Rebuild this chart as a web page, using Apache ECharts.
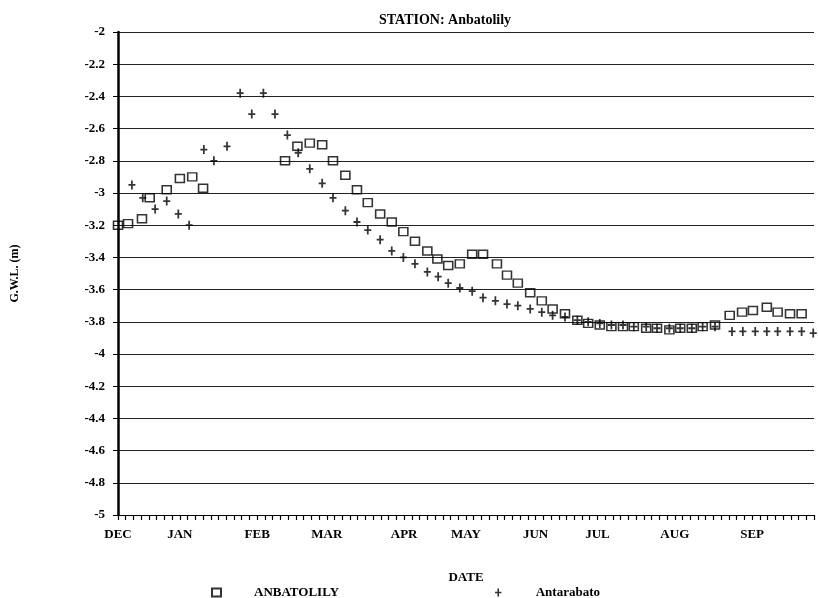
<!DOCTYPE html>
<html>
<head>
    <meta http-equiv="content-type" content="text/html;charset=utf-8" />
    <title>STATION: Anbatolily</title>
    <script src="https://cdn.jsdelivr.net/npm/echarts@6/dist/echarts.min.js"></script>
</head>
<body style="margin:0;background:#fff;">
    <div id="main" style="width: 818px;height:598px;"></div>
    <script type="text/javascript">
        // month labels and where they sit on the tick scale (one tick = one step of the date axis)
        var monthNames = ['DEC', 'JAN', 'FEB', 'MAR', 'APR', 'MAY', 'JUN', 'JUL', 'AUG', 'SEP'];
        var monthPos = [0, 8, 18, 27, 37, 45, 54, 62, 72, 82];

        // ANBATOLILY (squares)
        var anbX = [0, 1.3, 3.1, 4.1, 6.3, 8.0, 9.6, 11.0,
            21.6, 23.2, 24.8, 26.4, 27.8, 29.4, 30.9, 32.3, 33.9, 35.4, 36.9, 38.4, 40.0, 41.3, 42.7, 44.2,
            45.8, 47.2, 49.0, 50.3, 51.7, 53.3, 54.8, 56.2, 57.8, 59.4, 60.8, 62.3, 63.8, 65.3, 66.7, 68.3,
            69.7, 71.3, 72.7, 74.2, 75.6, 77.2, 79.1, 80.7, 82.1, 83.9, 85.3, 86.9, 88.4];
        var anbY = [-3.20, -3.19, -3.16, -3.03, -2.98, -2.91, -2.90, -2.97,
            -2.80, -2.71, -2.69, -2.70, -2.80, -2.89, -2.98, -3.06, -3.13, -3.18, -3.24, -3.30, -3.36, -3.41, -3.45, -3.44,
            -3.38, -3.38, -3.44, -3.51, -3.56, -3.62, -3.67, -3.72, -3.75, -3.79, -3.81, -3.82, -3.83, -3.83, -3.83, -3.84,
            -3.84, -3.85, -3.84, -3.84, -3.83, -3.82, -3.76, -3.74, -3.73, -3.71, -3.74, -3.75, -3.75];

        // Antarabato (crosses)
        var antX = [1.8, 3.2, 4.8, 6.3, 7.8, 9.2, 11.1, 12.4, 14.1, 15.8, 17.3, 18.8, 20.3, 21.9, 23.3,
            24.8, 26.4, 27.8, 29.4, 30.9, 32.3, 33.9, 35.4, 36.9, 38.4, 40.0, 41.4, 42.7, 44.2, 45.8,
            47.2, 48.8, 50.3, 51.7, 53.3, 54.8, 56.2, 57.8, 59.4, 60.8, 62.3, 63.8, 65.3, 66.7, 68.3,
            69.7, 71.3, 72.7, 74.2, 75.6, 77.2, 79.4, 80.8, 82.4, 83.9, 85.3, 86.9, 88.4, 89.9];
        var antY = [-2.95, -3.03, -3.10, -3.05, -3.13, -3.20, -2.73, -2.80, -2.71, -2.38, -2.51, -2.38, -2.51, -2.64, -2.75,
            -2.85, -2.94, -3.03, -3.11, -3.18, -3.23, -3.29, -3.36, -3.40, -3.44, -3.49, -3.52, -3.56, -3.59, -3.61,
            -3.65, -3.67, -3.69, -3.70, -3.72, -3.74, -3.76, -3.77, -3.79, -3.80, -3.81, -3.82, -3.82, -3.83, -3.83,
            -3.84, -3.84, -3.84, -3.84, -3.83, -3.83, -3.86, -3.86, -3.86, -3.86, -3.86, -3.86, -3.86, -3.87];

        function pairs(xs, ys) {
            var out = [];
            for (var i = 0; i < xs.length; i++) {
                out.push([xs[i], ys[i]]);
            }
            return out;
        }

        var serif = 'Liberation Serif';
        var plus = 'path://M3,0h2v4h3v2h-3v4h-2v-4h-3v-2h3z';

        var myChart = echarts.init(document.getElementById('main'));
        var option = {
            backgroundColor: '#fff',
            animation: false,
            title: {
                text: 'STATION: Anbatolily',
                left: 374,
                top: 8,
                textStyle: { fontFamily: serif, fontSize: 14, fontWeight: 'bold', color: '#000' }
            },
            legend: {
                data: ['ANBATOLILY', 'Antarabato'],
                left: 206,
                top: 581,
                itemWidth: 9,
                itemHeight: 8,
                itemGap: 156,
                textStyle: { fontFamily: serif, fontSize: 13, fontWeight: 'bold', color: '#000', padding: [0, 0, 0, 28] }
            },
            grid: { left: 118, right: 4, top: 32, bottom: 83 },
            xAxis: {
                type: 'value',
                min: 0,
                max: 90,
                interval: 1,
                name: 'DATE',
                nameLocation: 'middle',
                nameGap: 56,
                nameTextStyle: { fontFamily: serif, fontSize: 13, fontWeight: 'bold', color: '#000' },
                axisLine: { lineStyle: { color: '#000', width: 1 } },
                axisTick: { length: 5, lineStyle: { color: '#000', width: 1.2 } },
                axisLabel: {
                    margin: 13,
                    fontFamily: serif, fontSize: 13, fontWeight: 'bold', color: '#000',
                    formatter: function (v) {
                        var k = monthPos.indexOf(Math.round(v));
                        return k < 0 ? '' : monthNames[k];
                    }
                },
                splitLine: { show: false }
            },
            yAxis: {
                type: 'value',
                min: -5,
                max: -2,
                interval: 0.2,
                name: 'G.W.L. (m)',
                nameLocation: 'middle',
                nameGap: 97,
                nameTextStyle: { fontFamily: serif, fontSize: 12, fontWeight: 'bold', color: '#000' },
                axisLine: { show: true, lineStyle: { color: '#000', width: 2.5 } },
                axisTick: { show: true, length: 5, lineStyle: { color: '#000' } },
                axisLabel: {
                    margin: 13,
                    fontFamily: serif, fontSize: 13, fontWeight: 'bold', color: '#000',
                    formatter: function (v) { return String(Math.round(v * 10) / 10); }
                },
                splitLine: { show: true, lineStyle: { color: '#222', width: 1 } }
            },
            series: [{
                name: 'ANBATOLILY',
                type: 'scatter',
                symbol: 'rect',
                symbolSize: [9, 8],
                itemStyle: { color: 'rgba(0,0,0,0)', borderColor: '#000', borderWidth: 1.5 },
                data: pairs(anbX, anbY)
            }, {
                name: 'Antarabato',
                type: 'scatter',
                symbol: plus,
                symbolSize: [7, 9],
                itemStyle: { color: '#000' },
                data: pairs(antX, antY)
            }]
        };
        myChart.setOption(option);
    </script>
</body>
</html>
